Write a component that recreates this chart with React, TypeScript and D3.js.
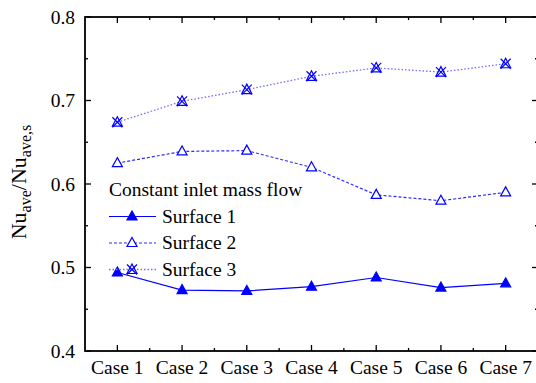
import React from "react";
import * as d3 from "d3";

const categories = ["Case 1", "Case 2", "Case 3", "Case 4", "Case 5", "Case 6", "Case 7"];
const surface1 = [0.494, 0.473, 0.472, 0.477, 0.488, 0.476, 0.481];
const surface2 = [0.625, 0.639, 0.640, 0.620, 0.587, 0.580, 0.590];
const surface3 = [0.674, 0.699, 0.713, 0.729, 0.739, 0.734, 0.744];
const yTicks = [0.4, 0.5, 0.6, 0.7, 0.8];
const yMinor = [0.45, 0.55, 0.65, 0.75];
const legendTitle = "Constant inlet mass flow";
const seriesNames = ["Surface 1", "Surface 2", "Surface 3"];

const W = 536, H = 383;
const L = 85, R = 538, T = 17, B = 351;
const FONT = '"Liberation Serif", "Times New Roman", Times, serif';
const FS = 19.5;

const x = d3.scaleLinear().domain([0.5, 7.5]).range([L, R]);
const y = d3.scaleLinear().domain([0.4, 0.8]).range([B, T]);

function Tri({ cx, cy, fill, color }: { cx: number; cy: number; fill: boolean; color: string }) {
  const s = 5;
  const d = `M${cx},${cy - s - 0.5}L${cx + s},${cy + s - 1.5}L${cx - s},${cy + s - 1.5}Z`;
  return <path d={d} fill={fill ? color : "white"} stroke={color} strokeWidth={1.2} />;
}

function CrossTri({ cx, cy, color }: { cx: number; cy: number; color: string }) {
  const s = 5;
  const d = `M${cx},${cy - s - 0.5}L${cx + s},${cy + s - 1}L${cx - s},${cy + s - 1}Z`;
  const x1 = `M${cx - s},${cy - s}L${cx + s},${cy + s}M${cx + s},${cy - s}L${cx - s},${cy + s}`;
  return (
    <g>
      <path d={d} fill="none" stroke={color} strokeWidth={1.2} />
      <path d={x1} fill="none" stroke={color} strokeWidth={1.2} />
    </g>
  );
}

export default function App() {
  const line = d3
    .line<number>()
    .x((_, i) => x(i + 1))
    .y((v) => y(v));
  const xMajor = categories.map((_, i) => i + 1);
  const xMinor = categories.map((_, i) => i + 1.5);
  const blue = "#0000ff";
  const lightBlue = "#6f6fff";
  const mid = "#2a2aff";
  const legX1 = 109, legX2 = 156, legM = 132, legT = 162;
  const legY = [216.5, 243, 269.5];
  const ts = { fontFamily: FONT };

  return (
    <svg width={W} height={H} style={{ position: "absolute", left: 0, top: 0, background: "white", fontFamily: FONT }}>
      <rect x={0} y={0} width={W} height={H} fill="white" />
      <path d={line(surface3) || ""} fill="none" stroke={lightBlue} strokeWidth={1.3} strokeDasharray="1.5,2" />
      <path d={line(surface2) || ""} fill="none" stroke={mid} strokeWidth={1.2} strokeDasharray="3,2" />
      <path d={line(surface1) || ""} fill="none" stroke={blue} strokeWidth={1.2} />
      {surface3.map((v, i) => (
        <CrossTri key={"s3" + i} cx={x(i + 1)} cy={y(v)} color={blue} />
      ))}
      {surface2.map((v, i) => (
        <Tri key={"s2" + i} cx={x(i + 1)} cy={y(v)} fill={false} color={blue} />
      ))}
      {surface1.map((v, i) => (
        <Tri key={"s1" + i} cx={x(i + 1)} cy={y(v)} fill={true} color={blue} />
      ))}
      <rect x={L} y={T} width={R - L} height={B - T} fill="none" stroke="black" strokeWidth={1.8} />
      {xMajor.map((t) => (
        <g key={"xm" + t}>
          <line x1={x(t)} x2={x(t)} y1={B} y2={B - 6} stroke="black" strokeWidth={1.3} />
          <line x1={x(t)} x2={x(t)} y1={T} y2={T + 6} stroke="black" strokeWidth={1.3} />
        </g>
      ))}
      {xMinor.map((t) => (
        <g key={"xn" + t}>
          <line x1={x(t)} x2={x(t)} y1={B} y2={B - 3} stroke="black" strokeWidth={1.3} />
          <line x1={x(t)} x2={x(t)} y1={T} y2={T + 3} stroke="black" strokeWidth={1.3} />
        </g>
      ))}
      {yTicks.map((t) => (
        <g key={"ym" + t}>
          <line x1={L} x2={L + 6} y1={y(t)} y2={y(t)} stroke="black" strokeWidth={1.3} />
          <line x1={R} x2={R - 6} y1={y(t)} y2={y(t)} stroke="black" strokeWidth={1.3} />
          <text x={L - 10} y={y(t)} dy="0.35em" textAnchor="end" fontSize={FS} fill="black" style={ts}>
            {d3.format(".1f")(t)}
          </text>
        </g>
      ))}
      {yMinor.map((t) => (
        <g key={"yn" + t}>
          <line x1={L} x2={L + 3} y1={y(t)} y2={y(t)} stroke="black" strokeWidth={1.3} />
          <line x1={R} x2={R - 3} y1={y(t)} y2={y(t)} stroke="black" strokeWidth={1.3} />
        </g>
      ))}
      {categories.map((c, i) => (
        <text key={c} x={x(i + 1)} y={374} textAnchor="middle" fontSize={FS} fill="black" style={ts}>
          {c}
        </text>
      ))}
      <text transform={`translate(26,${182}) rotate(-90)`} textAnchor="middle" fontSize={22} fill="black" style={ts}>
        <tspan>Nu</tspan>
        <tspan fontSize={16} dy={5}>ave</tspan>
        <tspan dy={-5}>/Nu</tspan>
        <tspan fontSize={16} dy={5}>ave,s</tspan>
      </text>
      <text x={legX1} y={196} fontSize={FS} fill="black" style={ts}>{legendTitle}</text>
      <line x1={legX1} x2={legX2} y1={legY[0]} y2={legY[0]} stroke={blue} strokeWidth={1.2} />
      <Tri cx={legM} cy={legY[0]} fill={true} color={blue} />
      <line x1={legX1} x2={legX2} y1={legY[1]} y2={legY[1]} stroke={mid} strokeWidth={1.2} strokeDasharray="3,2" />
      <Tri cx={legM} cy={legY[1]} fill={false} color={blue} />
      <line x1={legX1} x2={legX2} y1={legY[2]} y2={legY[2]} stroke={lightBlue} strokeWidth={1.3} strokeDasharray="1.5,2" />
      <CrossTri cx={legM} cy={legY[2]} color={blue} />
      {seriesNames.map((n, i) => (
        <text key={n} x={legT} y={legY[i]} dy="0.33em" fontSize={FS} fill="black" style={ts}>{n}</text>
      ))}
    </svg>
  );
}
